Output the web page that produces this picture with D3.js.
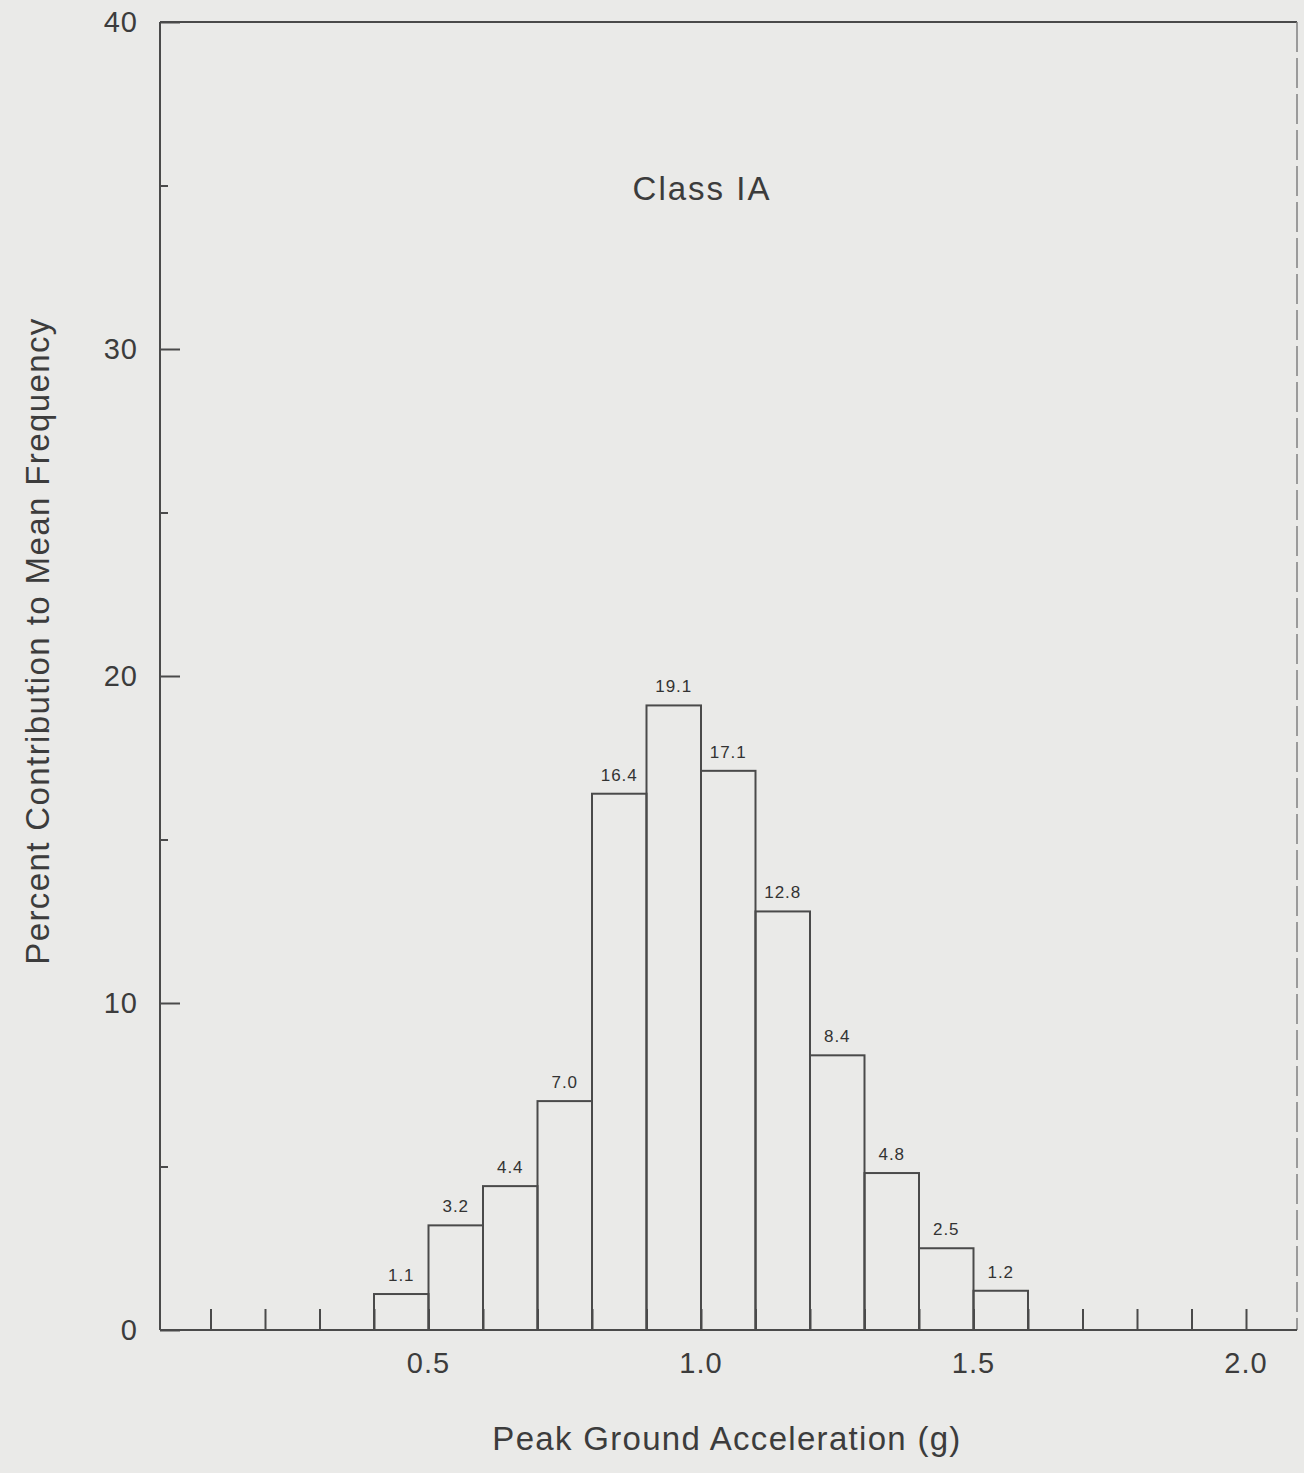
<!DOCTYPE html>
<html>
<head>
<meta charset="utf-8">
<script src="https://cdn.jsdelivr.net/npm/d3@7"></script>
<style>
  body { margin: 0; background: #eaeae8; }
  svg { display: block; }
  text { font-family: "Liberation Sans", Arial, Helvetica, sans-serif; fill: #3c3c3c; }
</style>
</head>
<body>
<div id="chart"></div>
<script>
// bin edges (g) and percent contribution per bin
const binStart = [0.4, 0.5, 0.6, 0.7, 0.8, 0.9, 1.0, 1.1, 1.2, 1.3, 1.4, 1.5];
const binWidth = 0.1;
const percent = [1.1, 3.2, 4.4, 7.0, 16.4, 19.1, 17.1, 12.8, 8.4, 4.8, 2.5, 1.2];

const yMajor = [0, 10, 20, 30, 40];
const yMinor = [5, 15, 25, 35];
const xTicks = [0.1, 0.2, 0.3, 0.4, 0.5, 0.6, 0.7, 0.8, 0.9, 1.0, 1.1, 1.2, 1.3, 1.4, 1.5, 1.6, 1.7, 1.8, 1.9, 2.0];
const xLabels = [0.5, 1.0, 1.5, 2.0];

const title = "Class IA";
const xTitle = "Peak Ground Acceleration (g)";
const yTitle = "Percent Contribution to Mean Frequency";

const W = 1304, H = 1473;
const margin = {top: 22, right: 7, bottom: 143, left: 160};
const width = W - margin.left - margin.right,
      height = H - margin.top - margin.bottom;

const svg = d3.select("#chart")
  .append("svg")
    .attr("width", W)
    .attr("height", H);

const g = svg.append("g")
    .attr("transform", "translate(" + margin.left + "," + margin.top + ")");

// zero sits a few px left of the drawn axis line in the scan
const x = d3.scaleLinear()
    .domain([0, (width + 4) / 545])
    .range([-4, width]);

const y = d3.scaleLinear()
    .domain([0, 40])
    .range([height, 0]);

const lineColor = "#4a4a4a";

// frame (top + right), right side faint like the scan
g.append("line")
    .attr("x1", 0).attr("x2", width)
    .attr("y1", y(40)).attr("y2", y(40))
    .attr("stroke", lineColor).attr("stroke-width", 2);
g.append("line")
    .attr("x1", width).attr("x2", width)
    .attr("y1", y(40)).attr("y2", y(0))
    .attr("stroke", "#808080").attr("stroke-width", 1.5)
    .attr("stroke-dasharray", "30,6");

// bars
g.selectAll("rect.bar")
  .data(binStart)
  .enter().append("rect")
    .attr("class", "bar")
    .attr("x", d => x(d))
    .attr("width", d => x(d + binWidth) - x(d))
    .attr("y", (d, i) => y(percent[i]))
    .attr("height", (d, i) => y(0) - y(percent[i]))
    .attr("fill", "none")
    .attr("stroke", lineColor)
    .attr("stroke-width", 2);

// value labels
g.selectAll("text.val")
  .data(binStart)
  .enter().append("text")
    .attr("class", "val")
    .attr("x", d => x(d + binWidth / 2))
    .attr("y", (d, i) => y(percent[i]) - 13)
    .attr("text-anchor", "middle")
    .style("font-size", "17px")
    .style("letter-spacing", "1px")
    .style("fill", "#333")
    .text((d, i) => percent[i].toFixed(1));

// Y axis, ticks pointing inward
g.append("g")
    .call(d3.axisRight(y).tickValues(yMajor).tickSize(20).tickFormat(""));
g.append("g")
    .call(d3.axisRight(y).tickValues(yMinor).tickSize(8).tickFormat(""));
g.selectAll(".domain").remove();
g.append("line")
    .attr("x1", 0).attr("x2", 0)
    .attr("y1", y(40)).attr("y2", y(0))
    .attr("stroke", lineColor).attr("stroke-width", 2);
g.selectAll(".tick line").attr("stroke", lineColor).attr("stroke-width", 2);

g.selectAll("text.ylab")
  .data(yMajor)
  .enter().append("text")
    .attr("class", "ylab")
    .attr("x", -22)
    .attr("y", d => y(d))
    .attr("dy", "0.35em")
    .attr("text-anchor", "end")
    .style("font-size", "29px")
    .style("letter-spacing", "1px")
    .text(d => d);

// X axis, ticks pointing up
const xAxis = g.append("g")
    .attr("transform", "translate(0," + height + ")")
    .call(d3.axisTop(x).tickValues(xTicks).tickSize(21).tickFormat(""));
xAxis.select(".domain").remove();
xAxis.selectAll(".tick line").attr("stroke", lineColor).attr("stroke-width", 2);
g.append("line")
    .attr("x1", 0).attr("x2", width)
    .attr("y1", y(0)).attr("y2", y(0))
    .attr("stroke", lineColor).attr("stroke-width", 2);

g.selectAll("text.xlab")
  .data(xLabels)
  .enter().append("text")
    .attr("class", "xlab")
    .attr("x", d => x(d))
    .attr("y", height + 43)
    .attr("text-anchor", "middle")
    .style("font-size", "29px")
    .style("letter-spacing", "1px")
    .text(d => d.toFixed(1));

// titles
svg.append("text")
    .attr("x", 702)
    .attr("y", 200)
    .attr("text-anchor", "middle")
    .style("font-size", "33px")
    .style("letter-spacing", "2px")
    .text(title);

svg.append("text")
    .attr("x", 727)
    .attr("y", 1450)
    .attr("text-anchor", "middle")
    .style("font-size", "33px")
    .style("letter-spacing", "1.3px")
    .text(xTitle);

svg.append("text")
    .attr("transform", "translate(49,641) rotate(-90)")
    .attr("text-anchor", "middle")
    .style("font-size", "33px")
    .style("letter-spacing", "1.4px")
    .text(yTitle);
</script>
</body>
</html>
